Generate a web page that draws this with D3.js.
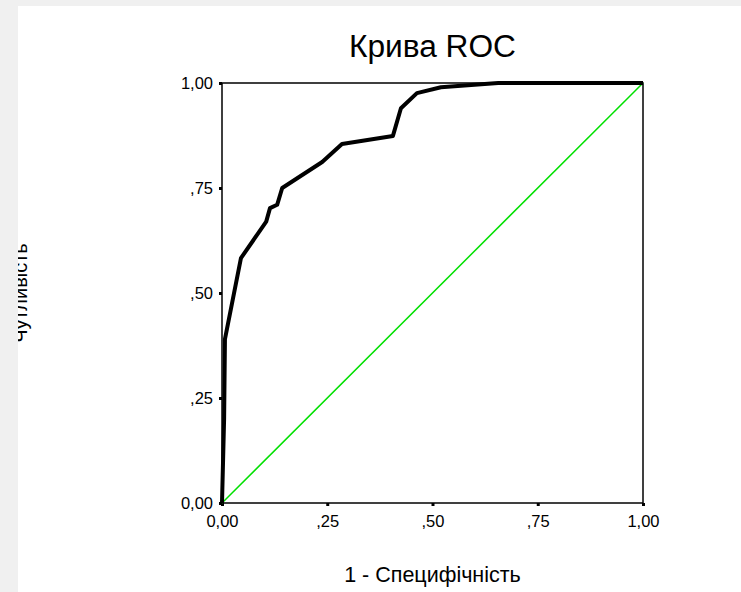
<!DOCTYPE html>
<html>
<head>
<meta charset="utf-8">
<script src="https://cdn.jsdelivr.net/npm/d3@7"></script>
<style>
  html, body { margin: 0; padding: 0; background: #f0f0f0; }
  svg { display: block; font-family: "Liberation Sans", Arial, sans-serif; }
</style>
</head>
<body>
<svg id="chart" width="741" height="592"></svg>
<script>
// ROC curve
const fpr = [0, 0.002, 0.005, 0.007, 0.045, 0.105, 0.114, 0.131, 0.143, 0.238, 0.285, 0.406, 0.425, 0.463, 0.52, 0.56, 0.656, 1];
const tpr = [0, 0.08, 0.2, 0.39, 0.583, 0.67, 0.702, 0.71, 0.75, 0.812, 0.855, 0.874, 0.94, 0.976, 0.99, 0.993, 1, 1];
const refLine = [0, 1];
const tickValues = [0, 0.25, 0.5, 0.75, 1];
const tickLabels = ["0,00", ",25", ",50", ",75", "1,00"];

const svg = d3.select("#chart");

// white panel
svg.append("rect")
    .attr("x", 18).attr("y", 6)
    .attr("width", 741 - 18).attr("height", 592 - 6)
    .attr("fill", "#fff");

const x = d3.scaleLinear().domain([0, 1]).range([222, 643]);
const y = d3.scaleLinear().domain([0, 1]).range([503, 83]);

// y title, partly hidden under the gray margin
svg.append("text")
    .attr("transform", "translate(27," + ((y(0) + y(1)) / 2) + ") rotate(-90)")
    .attr("text-anchor", "middle")
    .attr("font-size", 20)
    .attr("fill", "#000")
    .text("Чутливість");

svg.append("rect")
    .attr("x", 0).attr("y", 0)
    .attr("width", 18).attr("height", 592)
    .attr("fill", "#f0f0f0");

// frame
svg.append("rect")
    .attr("x", x(0)).attr("y", y(1))
    .attr("width", x(1) - x(0)).attr("height", y(0) - y(1))
    .attr("fill", "none")
    .attr("stroke", "#000")
    .attr("stroke-width", 1.5);

const xAxis = d3.axisBottom(x)
    .tickValues(tickValues)
    .tickFormat((d, i) => tickLabels[i])
    .tickSize(3)
    .tickPadding(9);

const yAxis = d3.axisLeft(y)
    .tickValues(tickValues)
    .tickFormat((d, i) => tickLabels[i])
    .tickSize(3)
    .tickPadding(6);

const gx = svg.append("g")
    .attr("transform", "translate(0," + y(0) + ")")
    .call(xAxis);
const gy = svg.append("g")
    .attr("transform", "translate(" + x(0) + ",0)")
    .call(yAxis);

[gx, gy].forEach(g => {
    g.select(".domain").remove();
    g.selectAll(".tick line").attr("stroke", "#000").attr("stroke-width", 3);
    g.selectAll(".tick text")
        .attr("fill", "#000")
        .attr("font-size", 16.5)
        .attr("font-family", "Liberation Sans, Arial, sans-serif");
});

// diagonal reference
svg.append("line")
    .attr("x1", x(refLine[0])).attr("y1", y(refLine[0]))
    .attr("x2", x(refLine[1])).attr("y2", y(refLine[1]))
    .attr("stroke", "#00e000")
    .attr("stroke-width", 1.5);

// ROC curve
const line = d3.line()
    .x(d => x(d[0]))
    .y(d => y(d[1]));

svg.append("path")
    .datum(d3.zip(fpr, tpr))
    .attr("d", line)
    .attr("fill", "none")
    .attr("stroke", "#000")
    .attr("stroke-width", 4)
    .attr("stroke-linejoin", "round");

// titles
svg.append("text")
    .attr("x", (x(0) + x(1)) / 2)
    .attr("y", 57)
    .attr("text-anchor", "middle")
    .attr("font-size", 31)
    .attr("textLength", 167)
    .attr("lengthAdjust", "spacingAndGlyphs")
    .text("Крива ROC");

svg.append("text")
    .attr("x", (x(0) + x(1)) / 2)
    .attr("y", 582)
    .attr("text-anchor", "middle")
    .attr("font-size", 21.5)
    .text("1 - Специфічність");
</script>
</body>
</html>
